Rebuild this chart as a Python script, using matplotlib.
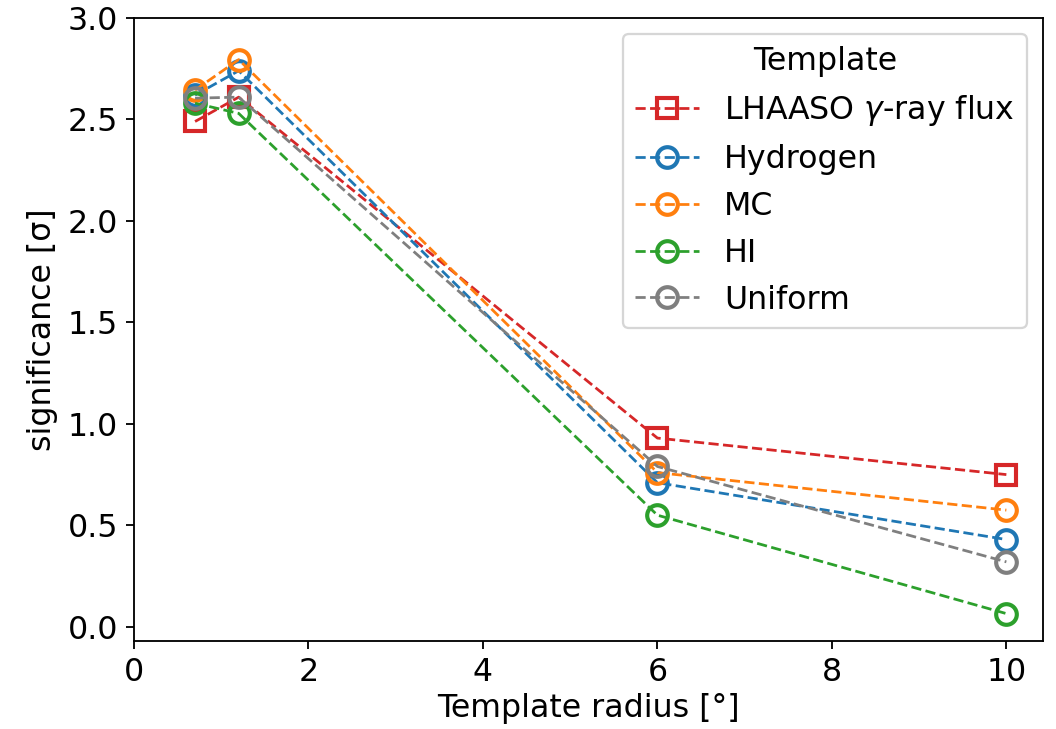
import matplotlib
matplotlib.use("Agg")
import matplotlib.pyplot as plt

radius = [0.7, 1.2, 6, 10]
lhaaso = [2.49, 2.61, 0.93, 0.75]
hydrogen = [2.62, 2.74, 0.71, 0.43]
mc = [2.645, 2.795, 0.76, 0.575]
hi = [2.58, 2.53, 0.55, 0.065]
uniform = [2.605, 2.61, 0.79, 0.32]

series = [
    ("LHAASO $\\gamma$-ray flux", lhaaso, "tab:red", "s"),
    ("Hydrogen", hydrogen, "tab:blue", "o"),
    ("MC", mc, "tab:orange", "o"),
    ("HI", hi, "tab:green", "o"),
    ("Uniform", uniform, "tab:gray", "o"),
]

plt.rcParams["font.size"] = 13.8

fig = plt.figure(figsize=(1056/165, 729/165), dpi=165)
ax = fig.add_axes([134/1056, 1-641/729, (1043-134)/1056, (641-18)/729])
for label, vals, color, marker in series:
    ax.plot(radius, vals, linestyle="--", color=color, marker=marker,
            markerfacecolor="none", markeredgewidth=1.8, markersize=9,
            label=label, lw=1.2)

ax.set_xlim(0, 10.42)
ax.set_ylim(-0.07, 3.0)
ax.set_xlabel("Template radius [°]", labelpad=2)
ax.set_ylabel("significance [σ]")
ax.legend(title="Template", loc="upper right", title_fontsize=13.8)
fig.savefig("out.png", dpi=165)
